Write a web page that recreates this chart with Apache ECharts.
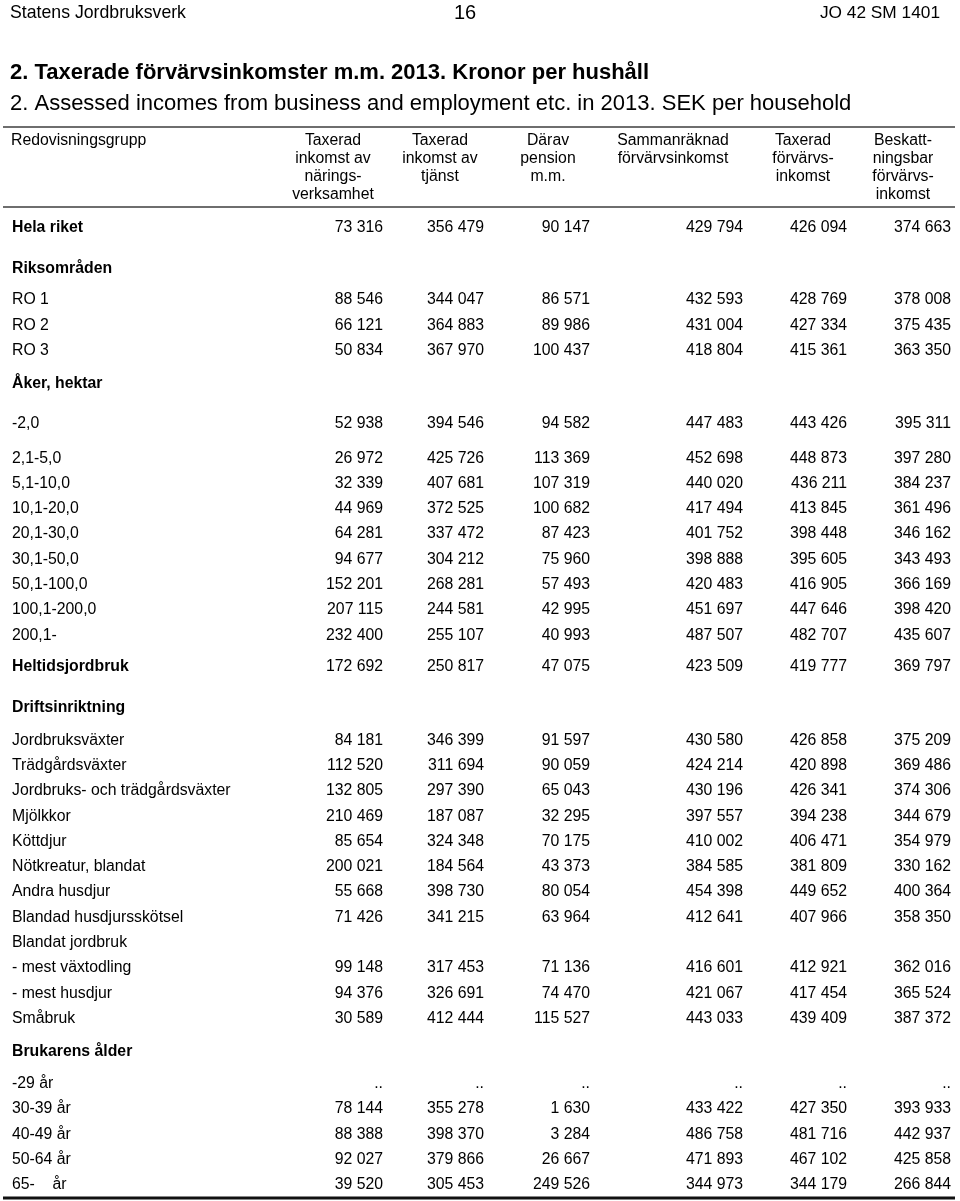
<!DOCTYPE html>
<html>
<head>
<meta charset="utf-8">
<script src="https://cdn.jsdelivr.net/npm/echarts@6/dist/echarts.min.js"></script>
<style>
html,body{margin:0;padding:0;background:#fff;}
#chart{width:960px;height:1201px;}
</style>
</head>
<body>
<div id="chart"></div>
<script>
// ---------- DATA ----------
const pageHeader = ['Statens Jordbruksverk', '16', 'JO 42 SM 1401'];
const titleSv = '2. Taxerade förvärvsinkomster m.m. 2013. Kronor per hushåll';
const titleEn = '2. Assessed incomes from business and employment etc. in 2013. SEK per household';
const stubHeader = 'Redovisningsgrupp';
const columnHeaders = [
  'Taxerad\ninkomst av\nnärings-\nverksamhet',
  'Taxerad\ninkomst av\ntjänst',
  'Därav\npension\nm.m.',
  'Sammanräknad\nförvärvsinkomst',
  'Taxerad\nförvärvs-\ninkomst',
  'Beskatt-\nningsbar\nförvärvs-\ninkomst'
];
const rowLabels = [
  'Hela riket', 'Riksområden', 'RO 1', 'RO 2', 'RO 3', 'Åker, hektar',
  '-2,0', '2,1-5,0', '5,1-10,0', '10,1-20,0', '20,1-30,0', '30,1-50,0',
  '50,1-100,0', '100,1-200,0', '200,1-', 'Heltidsjordbruk', 'Driftsinriktning',
  'Jordbruksväxter', 'Trädgårdsväxter', 'Jordbruks- och trädgårdsväxter', 'Mjölkkor',
  'Köttdjur', 'Nötkreatur, blandat', 'Andra husdjur', 'Blandad husdjursskötsel',
  'Blandat jordbruk', '- mest växtodling', '- mest husdjur', 'Småbruk',
  'Brukarens ålder', '-29 år', '30-39 år', '40-49 år', '50-64 år', '65-    år'
];
const sectionRows = ['Hela riket', 'Riksområden', 'Åker, hektar', 'Heltidsjordbruk', 'Driftsinriktning', 'Brukarens ålder'];
// null = no cell, '..' = not reported
const naringsverksamhet = [73316, null, 88546, 66121, 50834, null,
  52938, 26972, 32339, 44969, 64281, 94677, 152201, 207115, 232400, 172692, null,
  84181, 112520, 132805, 210469, 85654, 200021, 55668, 71426, null, 99148, 94376, 30589,
  null, '..', 78144, 88388, 92027, 39520];
const tjanst = [356479, null, 344047, 364883, 367970, null,
  394546, 425726, 407681, 372525, 337472, 304212, 268281, 244581, 255107, 250817, null,
  346399, 311694, 297390, 187087, 324348, 184564, 398730, 341215, null, 317453, 326691, 412444,
  null, '..', 355278, 398370, 379866, 305453];
const pension = [90147, null, 86571, 89986, 100437, null,
  94582, 113369, 107319, 100682, 87423, 75960, 57493, 42995, 40993, 47075, null,
  91597, 90059, 65043, 32295, 70175, 43373, 80054, 63964, null, 71136, 74470, 115527,
  null, '..', 1630, 3284, 26667, 249526];
const sammanraknad = [429794, null, 432593, 431004, 418804, null,
  447483, 452698, 440020, 417494, 401752, 398888, 420483, 451697, 487507, 423509, null,
  430580, 424214, 430196, 397557, 410002, 384585, 454398, 412641, null, 416601, 421067, 443033,
  null, '..', 433422, 486758, 471893, 344973];
const taxeradForv = [426094, null, 428769, 427334, 415361, null,
  443426, 448873, 436211, 413845, 398448, 395605, 416905, 447646, 482707, 419777, null,
  426858, 420898, 426341, 394238, 406471, 381809, 449652, 407966, null, 412921, 417454, 439409,
  null, '..', 427350, 481716, 467102, 344179];
const beskattningsbar = [374663, null, 378008, 375435, 363350, null,
  395311, 397280, 384237, 361496, 346162, 343493, 366169, 398420, 435607, 369797, null,
  375209, 369486, 374306, 344679, 354979, 330162, 400364, 358350, null, 362016, 365524, 387372,
  null, '..', 393933, 442937, 425858, 266844];
const columns = [naringsverksamhet, tjanst, pension, sammanraknad, taxeradForv, beskattningsbar];

// ---------- LAYOUT ----------
const FONT = "'Liberation Sans', Arial, sans-serif";
const BODY = '15.8px ';
const rowAdvance = [0, 1.6, 1.25, 1, 1, 1.3, 1.6, 1.35, 1, 1, 1, 1, 1, 1, 1, 1.25, 1.6, 1.3,
  1, 1, 1, 1, 1, 1, 1, 1, 1, 1, 1, 1.3, 1.27, 1, 1, 1, 1];
const ROW_PX = 25.3, FIRST_ROW_PX = 228, H = 1201, W = 960;
const labelX = 12;
const colRight = [383, 484, 590, 743, 847, 951];
const colHeaderCenter = [333, 440, 548, 673, 803, 903];

const rowPos = [];
rowAdvance.reduce((acc, a, i) => { rowPos[i] = acc + a; return acc + a; }, 0);

function fmt(v) {
  if (typeof v === 'string') return v;
  return String(v).replace(/\B(?=(\d{3})+(?!\d))/g, ' ');
}

const cells = [];
rowLabels.forEach((l, i) => {
  cells.push({ value: [labelX, rowPos[i]], text: l, align: 'left', bold: sectionRows.includes(l) });
});
columns.forEach((col, c) => {
  col.forEach((v, i) => {
    if (v === null) return;
    cells.push({ value: [colRight[c], rowPos[i]], text: fmt(v), align: 'right', bold: false });
  });
});

const chart = echarts.init(document.getElementById('chart'), null, { renderer: 'canvas' });

const graphics = [
  { type: 'text', x: 10, y: 13, style: { text: pageHeader[0], font: '17.7px ' + FONT, fill: '#000', verticalAlign: 'middle' } },
  { type: 'text', x: 465, y: 13, style: { text: pageHeader[1], font: '20px ' + FONT, fill: '#000', align: 'center', verticalAlign: 'middle' } },
  { type: 'text', x: 940, y: 13, style: { text: pageHeader[2], font: '17.3px ' + FONT, fill: '#000', align: 'right', verticalAlign: 'middle' } },
  { type: 'text', x: 10, y: 73, style: { text: titleSv, font: 'bold 22px ' + FONT, fill: '#000', verticalAlign: 'middle' } },
  { type: 'text', x: 10, y: 104, style: { text: titleEn, font: '22px ' + FONT, fill: '#000', verticalAlign: 'middle' } },
  { type: 'line', shape: { x1: 3, y1: 127, x2: 955, y2: 127 }, style: { stroke: '#6e6e6e', lineWidth: 2 } },
  { type: 'line', shape: { x1: 3, y1: 207, x2: 955, y2: 207 }, style: { stroke: '#6e6e6e', lineWidth: 2 } },
  { type: 'line', shape: { x1: 3, y1: 1198, x2: 955, y2: 1198 }, style: { stroke: '#111', lineWidth: 3 } },
  { type: 'text', x: 11, y: 141, style: { text: stubHeader, font: BODY + FONT, fill: '#000', verticalAlign: 'middle' } }
];
columnHeaders.forEach((h, c) => {
  graphics.push({ type: 'text', x: colHeaderCenter[c], y: 131,
    style: { text: h, font: BODY + FONT, fill: '#000', align: 'center', verticalAlign: 'top', lineHeight: 18.3 } });
});

chart.setOption({
  animation: false,
  backgroundColor: '#fff',
  grid: { left: 0, right: 0, top: 0, bottom: 0 },
  xAxis: { type: 'value', min: 0, max: W, show: false },
  yAxis: { type: 'value', inverse: true, min: -FIRST_ROW_PX / ROW_PX, max: (H - FIRST_ROW_PX) / ROW_PX, show: false },
  graphic: graphics,
  series: [{
    type: 'custom',
    coordinateSystem: 'cartesian2d',
    clip: false,
    data: cells.map(c => c.value),
    renderItem: function (params, api) {
      const p = api.coord([api.value(0), api.value(1)]);
      const d = cells[params.dataIndex];
      return {
        type: 'text', x: p[0], y: p[1],
        style: {
          text: d.text, align: d.align, verticalAlign: 'middle',
          font: (d.bold ? 'bold ' : '') + BODY + FONT, fill: '#000'
        }
      };
    }
  }]
});
</script>
</body>
</html>
